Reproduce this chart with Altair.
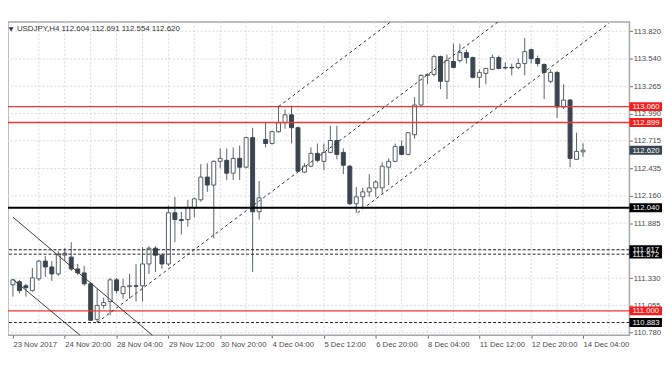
import altair as alt
import pandas as pd
import numpy as np

# ---- data (USDJPY H4) ----
bars = list(range(89))
opens = [111.263, 111.293, 111.253, 111.204, 111.323, 111.502, 111.443, 111.373, 111.562, 111.542,
         111.423, 111.383, 111.273, 110.915, 111.054, 111.094, 111.313, 111.174, 111.244, 111.253,
         111.253, 111.473, 111.632, 111.562, 111.473, 111.990, 111.921, 111.921, 112.040, 112.120,
         112.349, 112.269, 112.508, 112.518, 112.389, 112.538, 112.449, 112.747, 112.000, 112.728,
         112.688, 112.807, 112.897, 112.977, 112.847, 112.399, 112.459, 112.588, 112.508, 112.598,
         112.718, 112.598, 112.459, 112.080, 112.150, 112.200, 112.240, 112.240, 112.449, 112.508,
         112.658, 112.578, 112.777, 113.076, 113.375, 113.385, 113.564, 113.315, 113.514, 113.524,
         113.604, 113.554, 113.355, 113.395, 113.435, 113.554, 113.455, 113.455, 113.455, 113.494,
         113.634, 113.544, 113.485, 113.315, 113.405, 113.056, 113.126, 112.528, 112.604]
highs = [111.323, 111.313, 111.273, 111.433, 111.512, 111.552, 111.502, 111.602, 111.632, 111.692,
         111.473, 111.453, 111.293, 111.224, 111.134, 111.333, 111.333, 111.323, 111.373, 111.473,
         111.642, 111.652, 111.652, 111.582, 112.060, 112.150, 112.000, 112.120, 112.140, 112.479,
         112.489, 112.518, 112.638, 112.638, 112.648, 112.668, 112.757, 112.847, 112.309, 112.897,
         112.817, 113.060, 113.030, 113.070, 112.857, 112.489, 112.648, 112.688, 112.688, 112.867,
         112.867, 112.638, 112.469, 112.249, 112.240, 112.379, 112.319, 112.498, 112.538, 112.688,
         112.718, 112.800, 113.156, 113.385, 113.395, 113.584, 113.574, 113.584, 113.694, 113.694,
         113.634, 113.564, 113.435, 113.450, 113.584, 113.574, 113.504, 113.494, 113.544, 113.753,
         113.644, 113.574, 113.494, 113.435, 113.415, 113.285, 113.136, 112.797, 112.691]
lows = [111.144, 111.174, 111.144, 111.194, 111.303, 111.343, 111.303, 111.353, 111.502, 111.403,
        111.363, 111.253, 110.900, 110.883, 111.024, 110.955, 111.174, 111.124, 111.124, 111.094,
        111.094, 111.373, 111.393, 111.423, 111.453, 111.692, 111.771, 111.851, 111.941, 112.100,
        112.200, 111.732, 112.439, 112.319, 112.319, 112.319, 112.439, 111.393, 111.921, 112.648,
        112.678, 112.797, 112.837, 112.688, 112.399, 112.389, 112.449, 112.498, 112.419, 112.588,
        112.528, 112.379, 112.070, 111.990, 112.040, 112.150, 112.150, 112.180, 112.269, 112.498,
        112.568, 112.568, 112.737, 113.066, 113.285, 113.365, 113.236, 113.136, 113.445, 113.504,
        113.494, 113.345, 113.246, 113.285, 113.435, 113.435, 113.435, 113.375, 113.435, 113.375,
        113.494, 113.465, 113.136, 113.295, 112.947, 113.036, 112.449, 112.528, 112.554]
closes = [111.313, 111.204, 111.234, 111.333, 111.502, 111.443, 111.373, 111.572, 111.582, 111.423,
          111.383, 111.273, 110.905, 111.054, 111.084, 111.313, 111.204, 111.244, 111.253, 111.248,
          111.473, 111.632, 111.562, 111.473, 111.990, 111.921, 111.911, 112.040, 112.130, 112.349,
          112.269, 112.508, 112.538, 112.389, 112.538, 112.449, 112.747, 112.000, 112.140, 112.688,
          112.807, 112.897, 112.977, 112.847, 112.409, 112.459, 112.588, 112.518, 112.598, 112.718,
          112.578, 112.469, 112.080, 112.150, 112.200, 112.240, 112.299, 112.459, 112.508, 112.658,
          112.578, 112.797, 113.076, 113.375, 113.385, 113.564, 113.315, 113.524, 113.455, 113.604,
          113.554, 113.355, 113.405, 113.445, 113.554, 113.445, 113.450, 113.450, 113.494, 113.614,
          113.544, 113.494, 113.405, 113.405, 113.056, 113.126, 112.538, 112.608, 112.620]

x_label_bars = [0, 8, 16, 24, 32, 40, 48, 56, 64, 72, 80, 88]
x_labels = ['23 Nov 2017', '24 Nov 20:00', '28 Nov 04:00', '29 Nov 12:00', '30 Nov 20:00',
            '4 Dec 04:00', '5 Dec 12:00', '6 Dec 20:00', '8 Dec 04:00', '11 Dec 12:00',
            '12 Dec 20:00', '14 Dec 04:00']
grid_bars = list(range(4, 95, 4))
y_ticks = [113.820, 113.540, 113.265, 112.990, 112.715, 112.435, 112.160, 111.885,
           111.610, 111.330, 111.055, 110.780]

# horizontal levels
red_levels = [113.060, 112.899, 111.000]
black_levels = [112.040]
dashed_levels = [111.617, 111.572, 110.883]

# channel (dashed) and trend (solid) lines: segment, bar, price
chan_seg = ['c1', 'c1', 'c2', 'c2', 'c3', 'c3']
chan_bar = [41, 58.3, 13, 75, 53.2, 92]
chan_price = [113.060, 113.913, 110.883, 113.92, 111.99, 113.90]
trend_seg = ['t1', 't1', 't2', 't2']
trend_bar = [0, 22.5, 0, 10.8]
trend_price = [111.945, 110.70, 111.318, 110.73]

# price boxes on the right axis (drawn in this order)
box_vals = [113.060, 112.899, 112.620, 112.040, 111.572, 111.617, 111.000, 110.883]
box_fill = ['#f21e1e', '#f21e1e', '#3a4450', '#000000', '#000000', '#000000', '#f21e1e', '#000000']

# ---- build ----
W, H = 629, 317
FONT = 'Liberation Sans'
xs = alt.Scale(domain=[0, 94.4], nice=False, zero=False)
ys = alt.Scale(domain=[110.755, 113.913], nice=False, zero=False)

label_expr = "[" + ",".join("'%s'" % s for s in x_labels) + "][round(datum.value / 8)]"
XAX = alt.Axis(values=x_label_bars, labelExpr=label_expr, labelAlign='left', labelPadding=2,
               tickSize=3, tickColor='#6a6a6a', grid=False, domain=False, labelFont=FONT,
               labelFontSize=7.8, labelColor='#4a4a4a', title=None, labelOverlap=False,
               labelFlush=False, labelBound=False)
YAX = alt.Axis(orient='right', values=y_ticks, format='.3f', tickSize=3, tickColor='#6a6a6a',
               labelPadding=1, domain=False, grid=False, labelFont=FONT, labelFontSize=7.8,
               labelColor='#4a4a4a', title=None, labelOverlap=False, labelBound=False)

df = pd.DataFrame({'i': bars, 'o': opens, 'h': highs, 'l': lows, 'c': closes})
df['top'] = df[['o', 'c']].max(axis=1)
df['bot'] = df[['o', 'c']].min(axis=1)
df['dir'] = np.where(df['c'] >= df['o'], 'up', 'down')

X = alt.X('i:Q', scale=xs, axis=XAX)

grid_x = alt.Chart(pd.DataFrame({'g': grid_bars})).mark_rule(
    color='#d9d9d9', strokeDash=[2, 2], strokeWidth=1).encode(
    x=alt.X('g:Q', scale=xs, axis=XAX))
grid_y = alt.Chart(pd.DataFrame({'t': y_ticks})).mark_rule(
    color='#d9d9d9', strokeDash=[2, 2], strokeWidth=1).encode(
    y=alt.Y('t:Q', scale=ys, axis=YAX))

wicks = alt.Chart(df).mark_rule(color='#5b6168', strokeWidth=1, clip=True).encode(
    x=X, y=alt.Y('l:Q', scale=ys, axis=YAX), y2='h:Q')
bodies = alt.Chart(df).mark_bar(size=4, strokeWidth=1, clip=True).encode(
    x=X, y=alt.Y('bot:Q', scale=ys, axis=YAX), y2='top:Q',
    fill=alt.condition(alt.datum.dir == 'up', alt.value('white'), alt.value('#3b4550')),
    stroke=alt.condition(alt.datum.dir == 'up', alt.value('#555b62'), alt.value('#3b4550')))

red_rules = alt.Chart(pd.DataFrame({'v': red_levels})).mark_rule(
    color='#f03535', strokeWidth=1.4).encode(y=alt.Y('v:Q', scale=ys, axis=YAX))
black_rules = alt.Chart(pd.DataFrame({'v': black_levels})).mark_rule(
    color='#000000', strokeWidth=2).encode(y=alt.Y('v:Q', scale=ys, axis=YAX))
dash_rules = alt.Chart(pd.DataFrame({'v': dashed_levels})).mark_rule(
    color='#222222', strokeWidth=1, strokeDash=[3, 2]).encode(y=alt.Y('v:Q', scale=ys, axis=YAX))

chan = alt.Chart(pd.DataFrame({'s': chan_seg, 'b': chan_bar, 'p': chan_price})).mark_line(
    color='#333333', strokeWidth=1, strokeDash=[3, 3], clip=True).encode(
    x=alt.X('b:Q', scale=xs, axis=XAX), y=alt.Y('p:Q', scale=ys, axis=YAX), detail='s:N')
trend = alt.Chart(pd.DataFrame({'s': trend_seg, 'b': trend_bar, 'p': trend_price})).mark_line(
    color='#3a3a3a', strokeWidth=1, clip=True).encode(
    x=alt.X('b:Q', scale=xs, axis=XAX), y=alt.Y('p:Q', scale=ys, axis=YAX), detail='s:N')

last = df.iloc[-1]
head_txt = 'USDJPY,H4  %.3f %.3f %.3f %.3f' % (last.o, last.h, last.l, last.c)
header = alt.Chart(pd.DataFrame({'t': [head_txt]})).mark_text(
    align='left', baseline='middle', font=FONT, fontSize=8, color='#333333').encode(
    x=alt.value(9), y=alt.value(7), text='t:N')
tri = alt.Chart(pd.DataFrame({'t': ['▼']})).mark_text(
    align='center', baseline='middle', font='DejaVu Sans', fontSize=6, color='#333333').encode(
    x=alt.value(3), y=alt.value(7), text='t:N')

boxes = pd.DataFrame({'v': box_vals, 'f': box_fill, 'order': list(range(len(box_vals)))})
boxes['v1'] = boxes['v'] - 0.045
boxes['v2'] = boxes['v'] + 0.045
boxes['lab'] = boxes['v'].map(lambda v: '%.3f' % v)
box_rect = alt.Chart(boxes).mark_rect(clip=False).encode(
    x=alt.value(W), x2=alt.value(W + 33),
    y=alt.Y('v1:Q', scale=ys, axis=YAX), y2='v2:Q',
    fill=alt.Fill('f:N', scale=None), order='order:Q')
box_text = alt.Chart(boxes).mark_text(
    align='left', baseline='middle', font=FONT, fontSize=7.8, color='white', clip=False, dy=0.5).encode(
    x=alt.value(W + 3), y=alt.Y('v:Q', scale=ys, axis=YAX), text='lab:N', order='order:Q')

chart = alt.layer(
    grid_x, grid_y, wicks, bodies, red_rules, black_rules, dash_rules, chan, trend,
    header, tri, box_rect, box_text
).properties(
    width=W, height=H,
    autosize=alt.AutoSizeParams(type='none'),
    padding={'left': 0, 'top': 12, 'right': 35, 'bottom': 27},
    background='white'
).configure_view(stroke='#a4a8ad', strokeWidth=1.5)

chart.save('out.html', embed_options={'renderer': 'svg', 'actions': False})
